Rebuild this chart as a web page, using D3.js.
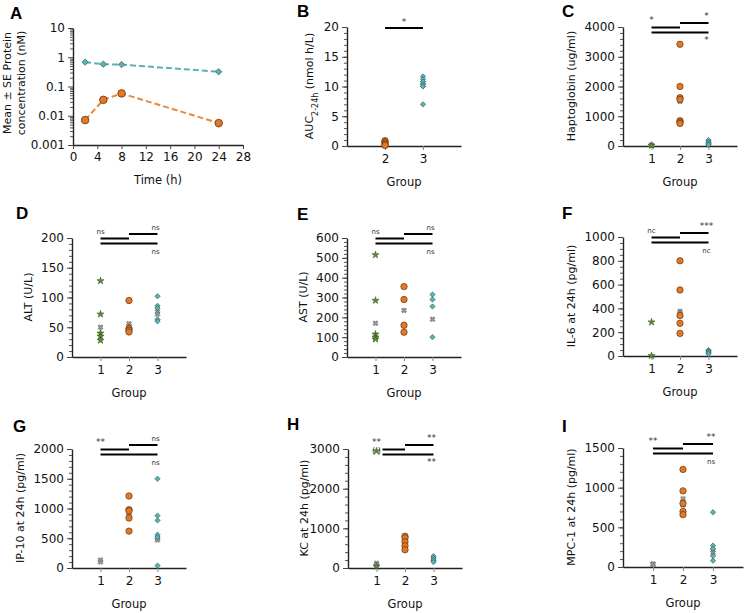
<!DOCTYPE html>
<html>
<head>
<meta charset="utf-8">
<script src="https://cdn.jsdelivr.net/npm/d3@7"></script>
<style>
  body { margin: 0; background: #fff; }
  text { font-family: "DejaVu Sans", sans-serif; }
</style>
</head>
<body>
<script>
// ---- data ----
// A: mean concentration over time
var timeH = [2, 5, 8, 24];
var concG3 = [0.68, 0.58, 0.56, 0.32];
var concG2 = [0.0071, 0.035, 0.058, 0.0056];
var concG2Err = [0.0007, 0.004, 0.012, 0.0016];
var timeTicks = [0, 4, 8, 12, 16, 20, 24, 28];
var logTicks = [0.001, 0.01, 0.1, 1, 10];

// B: AUC 2-24h
var aucG2 = [0.9, 0.7, 0.5, 0.3, 0.1];
var aucG3 = [11.7, 11.2, 10.8, 10.3, 10.0, 7.0];
var aucX = [[2, 0.5], [2, 0.3], [3, 10.6], [3, 10.2]];

// C: haptoglobin
var hpG1 = [20];
var hpG2 = [3420, 2000, 1620, 1560, 850, 800, 760];
var hpG3 = [200, 120, 80, 40];
var hpX = [[1, 30], [1, 15], [2, 1500], [3, 150], [3, 90]];

// D: ALT
var altG1 = [128, 72, 40, 35, 28];
var altG2 = [95, 48, 45, 42];
var altG3 = [102, 86, 82, 63, 60];
var altX = [[1, 50], [2, 56], [2, 52], [3, 76], [3, 72]];

// E: AST
var astG1 = [515, 285, 115, 100, 90];
var astG2 = [355, 290, 160, 125];
var astG3 = [315, 290, 255, 100];
var astX = [[1, 170], [2, 235], [3, 190]];

// F: IL-6
var il6G1 = [285, 2];
var il6G2 = [800, 555, 340, 275, 190];
var il6G3 = [50, 40, 28, 18];
var il6X = [[2, 375], [2, 360], [3, 35]];

// G: IP-10
var ipG1 = [];
var ipG2 = [1210, 980, 960, 840, 620];
var ipG3 = [1500, 880, 800, 560, 520, 40];
var ipX = [[1, 135], [1, 100], [2, 910], [2, 880], [3, 500], [3, 470]];

// H: KC
var kcG1 = [40];
var kcG2 = [800, 760, 660, 560, 460];
var kcG3 = [300, 250, 200, 150];
var kcX = [[1, 120], [1, 80], [2, 620], [2, 580], [3, 220]];
var kcOutlier = 2950;

// I: MPC-1
var mpcG1 = [];
var mpcG2 = [1230, 960, 800, 700, 660];
var mpcG3 = [690, 270, 230, 140, 80];
var mpcX = [[1, 40], [1, 30], [2, 860], [2, 820], [2, 780], [3, 210], [3, 180]];

var groups = [1, 2, 3];

// ---- styles ----
var orange = "#e07a2a", orangeDark = "#6b3208";
var teal = "#5bb3b3", tealDark = "#2b5e5e";
var green = "#5f8f2f", greenDark = "#2e4a14";
var greyX = "#9a9a9a", greyXDark = "#555";

var svg = d3.select("body").append("svg")
    .attr("width", 744)
    .attr("height", 613);

var starPath = d3.symbol().type(d3.symbolStar).size(16)();
var diamondPath = d3.symbol().type(d3.symbolSquare).size(14)(); // rotated 45 below
var crossPath = d3.symbol().type(d3.symbolCross).size(16)();

function letter(t, x, y) {
    svg.append("text")
        .attr("x", x).attr("y", y)
        .style("font-family", "Arial, 'Liberation Sans', sans-serif")
        .style("font-weight", "bold")
        .style("font-size", "17px")
        .attr("fill", "#000")
        .text(t);
}

function styleAxis(s) {
    s.selectAll(".domain").attr("stroke", "#222").attr("stroke-width", 1.4);
    s.selectAll(".tick line").attr("stroke", "#444");
    s.selectAll("text").style("font-size", "12px").style("font-family", "DejaVu Sans, sans-serif").attr("fill", "#111");
}

// generic group scatter panel
function groupPanel(o) {
    var g = svg.append("g");
    var x = d3.scaleLinear().domain(o.xDomain).range([o.left, o.left + o.w]);
    var y = d3.scaleLinear().domain([0, o.max]).range([o.bottom, o.bottom - 119]);

    // minor ticks
    g.append("g")
        .attr("transform", "translate(" + o.left + ",0)")
        .call(d3.axisLeft(y).tickValues(d3.range(0, o.max + o.minor / 2, o.minor)).tickSize(3).tickFormat("").tickSizeOuter(0))
        .call(function(s) { s.select(".domain").remove(); s.selectAll("line").attr("stroke", "#555"); });

    g.append("g")
        .attr("transform", "translate(" + o.left + ",0)")
        .call(d3.axisLeft(y).tickValues(d3.range(0, o.max + 1, o.major)).tickSize(5).tickSizeOuter(0)
            .tickPadding(3).tickFormat(d3.format("d")))
        .call(styleAxis);

    var xa = g.append("g")
        .attr("transform", "translate(0," + o.bottom + ")")
        .call(d3.axisBottom(x).tickValues(o.xTicks).tickSize(4).tickSizeOuter(0).tickPadding(4).tickFormat(d3.format("d")))
        .call(styleAxis);
    xa.selectAll(".tick line").attr("stroke", "#888");

    // axis titles
    g.append("text")
        .attr("x", d3.mean(o.xTicks.map(x)))
        .attr("y", o.bottom + 40)
        .attr("text-anchor", "middle")
        .attr("fill", "#111")
        .style("font-size", "11.5px")
        .text("Group");

    var yt = g.append("text")
        .attr("transform", "translate(" + (o.left - o.labOff) + "," + (o.bottom - 60) + ") rotate(-90)")
        .attr("text-anchor", "middle")
        .attr("fill", "#111")
        .style("font-size", "11px");
    if (o.sub) {
        yt.append("tspan").text(o.ylab[0]);
        yt.append("tspan").attr("baseline-shift", "sub").style("font-size", "8px").text(o.sub);
        yt.append("tspan").text(o.ylab[1]);
    } else {
        yt.text(o.ylab);
    }

    // gray crosses
    g.selectAll(".xm").data(o.crosses).enter().append("path")
        .attr("d", crossPath)
        .attr("transform", function(d) { return "translate(" + x(d[0]) + "," + y(d[1]) + ") rotate(45)"; })
        .attr("fill", greyX).attr("stroke", greyXDark).attr("stroke-width", 0.5);

    // group 1 stars
    g.selectAll(".st").data(o.g1 || []).enter().append("path")
        .attr("d", starPath)
        .attr("transform", function(d) { return "translate(" + x(1) + "," + y(d) + ")"; })
        .attr("fill", green).attr("stroke", greenDark).attr("stroke-width", 0.5);

    // group 2 circles
    g.selectAll(".ci").data(o.g2).enter().append("circle")
        .attr("cx", x(2)).attr("cy", function(d) { return y(d); })
        .attr("r", 3.2)
        .attr("fill", orange).attr("stroke", orangeDark).attr("stroke-width", 0.7);

    // group 3 diamonds
    g.selectAll(".di").data(o.g3).enter().append("path")
        .attr("d", diamondPath)
        .attr("transform", function(d) { return "translate(" + x(3) + "," + y(d) + ") rotate(45)"; })
        .attr("fill", teal).attr("stroke", tealDark).attr("stroke-width", 0.6);

    // significance bars
    if (o.sig) {
        var top = o.bottom - 119;
        var s1 = o.sigStart ? x(1) + o.sigStart : x(1);
        var bars = [[s1, x(2), top + 0.5], [x(2), x(3), top - 4], [s1, x(3), top + 5.5]];
        g.selectAll(".sb").data(bars).enter().append("line")
            .attr("x1", function(d) { return d[0]; })
            .attr("x2", function(d) { return d[1]; })
            .attr("y1", function(d) { return d[2]; })
            .attr("y2", function(d) { return d[2]; })
            .attr("stroke", "#000").attr("stroke-width", 2);
        var labs = [[x(1), top - 4, o.sig[0]], [x(3) - 2, top - 8, o.sig[1]], [x(3) - 2, top + 16, o.sig[2]]];
        g.selectAll(".sl").data(labs).enter().append("text")
            .attr("x", function(d) { return d[0]; })
            .attr("y", function(d) { return d[1]; })
            .attr("text-anchor", "middle")
            .style("font-size", function(d) { return d[2].indexOf("*") >= 0 ? "9px" : "7px"; })
            .attr("fill", "#333")
            .text(function(d) { return d[2]; });
    }
    return {x: x, y: y, g: g};
}

// ---- Panel A ----
(function() {
    var x = d3.scaleLinear().domain([0, 28]).range([73, 243]);
    var y = d3.scaleLog().domain([0.001, 10]).range([145, 28]);
    var g = svg.append("g");

    var minors = [];
    [0.001, 0.01, 0.1, 1].forEach(function(b) {
        for (var k = 2; k <= 9; k++) minors.push(b * k);
    });
    g.append("g").attr("transform", "translate(73,0)")
        .call(d3.axisLeft(y).tickValues(minors).tickSize(3).tickFormat(""))
        .call(function(s) { s.select(".domain").remove(); s.selectAll("line").attr("stroke", "#555"); });
    g.append("g").attr("transform", "translate(73,0)")
        .call(d3.axisLeft(y).tickValues(logTicks).tickSize(5).tickSizeOuter(0).tickFormat(d3.format("~g")))
        .call(styleAxis);
    g.append("g").attr("transform", "translate(0,145)")
        .call(d3.axisBottom(x).tickValues(timeTicks).tickSize(4).tickSizeOuter(0))
        .call(styleAxis);

    g.append("text").attr("x", 158).attr("y", 184).attr("text-anchor", "middle").attr("fill", "#111")
        .style("font-size", "11.5px").text("Time (h)");
    g.append("text").attr("transform", "translate(11,83) rotate(-90)").attr("text-anchor", "middle").attr("fill", "#111")
        .style("font-size", "11px").text("Mean \u00b1 SE Protein");
    g.append("text").attr("transform", "translate(25,83) rotate(-90)").attr("text-anchor", "middle").attr("fill", "#111")
        .style("font-size", "11px").text("concentration (nM)");

    var line = d3.line().x(function(d) { return x(d[0]); }).y(function(d) { return y(d[1]); });
    var s3 = d3.zip(timeH, concG3), s2 = d3.zip(timeH, concG2);

    // error bars (group 2)
    g.selectAll(".eb").data(d3.zip(timeH, concG2, concG2Err)).enter().append("line")
        .attr("x1", function(d) { return x(d[0]); }).attr("x2", function(d) { return x(d[0]); })
        .attr("y1", function(d) { return y(d[1] - d[2]); }).attr("y2", function(d) { return y(d[1] + d[2]); })
        .attr("stroke", "#f0b07a").attr("stroke-width", 1.5);

    g.append("path").datum(s3).attr("d", line).attr("fill", "none")
        .attr("stroke", "#5fb0b0").attr("stroke-width", 2).attr("stroke-dasharray", "6,3");
    g.append("path").datum(s2).attr("d", line).attr("fill", "none")
        .attr("stroke", "#e58a3a").attr("stroke-width", 2).attr("stroke-dasharray", "6,3");

    g.selectAll(".d3").data(s3).enter().append("path")
        .attr("d", d3.symbol().type(d3.symbolSquare).size(20)())
        .attr("transform", function(d) { return "translate(" + x(d[0]) + "," + y(d[1]) + ") rotate(45)"; })
        .attr("fill", teal).attr("stroke", tealDark).attr("stroke-width", 0.7);
    g.selectAll(".c2").data(s2).enter().append("circle")
        .attr("cx", function(d) { return x(d[0]); }).attr("cy", function(d) { return y(d[1]); })
        .attr("r", 3.8).attr("fill", orange).attr("stroke", orangeDark).attr("stroke-width", 0.8);
})();
letter("A", 10, 19);

// ---- Panel B ----
(function() {
    var p = groupPanel({left: 347, bottom: 146, w: 114, xDomain: [1, 4], xTicks: [2, 3],
        max: 20, major: 5, minor: 1, labOff: 34, ylab: ["AUC", " (nmol h/L)"], sub: "2-24h",
        g2: aucG2, g3: aucG3, crosses: aucX});
    p.g.append("line").attr("x1", p.x(2)).attr("x2", p.x(3)).attr("y1", 28).attr("y2", 28)
        .attr("stroke", "#000").attr("stroke-width", 2);
    p.g.append("text").attr("x", (p.x(2) + p.x(3)) / 2).attr("y", 25).attr("text-anchor", "middle")
        .attr("fill", "#333").style("font-size", "9px").text("*");
})();
letter("B", 297, 17);

// ---- Panel C ----
groupPanel({left: 623, bottom: 146, w: 114, xDomain: [0, 4], xTicks: groups,
    max: 4000, major: 1000, minor: 200, labOff: 48, ylab: "Haptoglobin (ug/ml)",
    g1: hpG1, g2: hpG2, g3: hpG3, crosses: hpX, sig: ["*", "*", "*"]});
letter("C", 562, 17);

// ---- Panel D ----
groupPanel({left: 72, bottom: 357, w: 114, xDomain: [0, 4], xTicks: groups,
    max: 200, major: 50, minor: 10, labOff: 40, ylab: "ALT (U/L)",
    g1: altG1, g2: altG2, g3: altG3, crosses: altX, sig: ["ns", "ns", "ns"]});
letter("D", 16, 219);

// ---- Panel E ----
groupPanel({left: 347, bottom: 357, w: 114, xDomain: [0, 4], xTicks: groups,
    max: 600, major: 100, minor: 20, labOff: 40, ylab: "AST (U/L)",
    g1: astG1, g2: astG2, g3: astG3, crosses: astX, sig: ["ns", "ns", "ns"]});
letter("E", 297, 220);

// ---- Panel F ----
groupPanel({left: 623, bottom: 356, w: 114, xDomain: [0, 4], xTicks: groups,
    max: 1000, major: 200, minor: 50, labOff: 48, ylab: "IL-6 at 24h (pg/ml)",
    g1: il6G1, g2: il6G2, g3: il6G3, crosses: il6X, sig: ["nc", "***", "nc"]});
letter("F", 562, 219);

// ---- Panel G ----
groupPanel({left: 72, bottom: 568, w: 114, xDomain: [0, 4], xTicks: groups,
    max: 2000, major: 500, minor: 100, labOff: 48, ylab: "IP-10 at 24h (pg/ml)",
    g1: ipG1, g2: ipG2, g3: ipG3, crosses: ipX, sig: ["**", "ns", "ns"]});
letter("G", 13, 432);

// ---- Panel H ----
(function() {
    var p = groupPanel({left: 348, bottom: 568, w: 114, xDomain: [0, 4], xTicks: groups,
        max: 3000, major: 1000, minor: 200, labOff: 40, ylab: "KC at 24h (pg/ml)",
        g1: kcG1, g2: kcG2, g3: kcG3, crosses: kcX, sig: ["**", "**", "**"], sigStart: 6});
    // out-of-range point shown in parentheses
    p.g.append("path").attr("d", starPath)
        .attr("transform", "translate(" + p.x(1) + "," + p.y(kcOutlier) + ")")
        .attr("fill", green).attr("stroke", greenDark).attr("stroke-width", 0.5);
    p.g.append("text").attr("x", p.x(1)).attr("y", p.y(kcOutlier) + 3).attr("text-anchor", "middle")
        .attr("fill", "#333").style("font-size", "8px").text("(   )");
})();
letter("H", 287, 430);

// ---- Panel I ----
groupPanel({left: 623, bottom: 567, w: 120, xDomain: [0, 4], xTicks: groups,
    max: 1500, major: 500, minor: 100, labOff: 48, ylab: "MPC-1 at 24h (pg/ml)",
    g1: mpcG1, g2: mpcG2, g3: mpcG3, crosses: mpcX, sig: ["**", "**", "ns"]});
letter("I", 562, 432);
</script>
</body>
</html>
